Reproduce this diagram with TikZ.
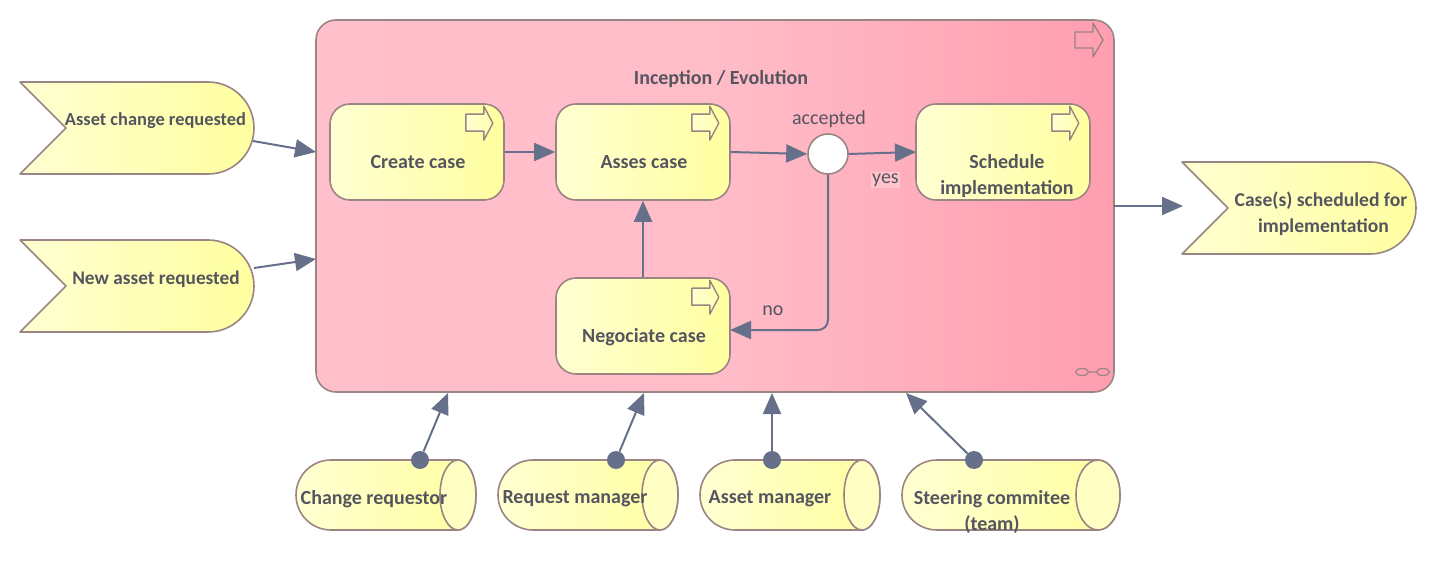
\documentclass[tikz,border=0pt]{standalone}
\usepackage{fontspec}
\setmainfont{Carlito}
\usetikzlibrary{arrows.meta}
\definecolor{edgeC}{HTML}{9A8484}
\definecolor{linkC}{HTML}{66708A}
\definecolor{textC}{HTML}{555560}
\definecolor{yellowL}{HTML}{FFFFD2}
\definecolor{yellowR}{HTML}{FFFFA0}
\definecolor{yesbg}{HTML}{FFC4CE}
\pgfdeclarehorizontalshading{pinkfade}{100bp}{
  rgb(0bp)=(1,0.753,0.796);
  rgb(25bp)=(1,0.753,0.796);
  rgb(50bp)=(1,0.74,0.785);
  rgb(75bp)=(1,0.62,0.69);
  rgb(100bp)=(1,0.62,0.69)}
\tikzset{
  outline/.style={draw=edgeC,line width=1.6pt,line join=round},
  yfill/.style={left color=yellowL,right color=yellowR},
  procbox/.style={outline,yfill,rounded corners=20pt,minimum width=174pt,minimum height=96pt,inner sep=0pt},
  eventbox/.style={outline,yfill},
  actorbody/.style={outline,yfill},
  actorend/.style={outline,fill=yellowL!70!yellowR},
  iconarrow/.style={outline,line width=1.4pt},
  bold/.style={font=\fontsize{20}{26}\selectfont\bfseries,text=textC,align=center,inner sep=0pt},
  plain/.style={font=\fontsize{20}{22}\selectfont,text=textC,inner sep=0pt},
  link/.style={draw=linkC,line width=2pt,-{Triangle[length=21pt,width=18pt]}},
  dot/.style={circle,fill=linkC,minimum size=18pt,inner sep=0pt},
}
\newcommand{\procicon}[1]{%
  \path[iconarrow,left color=yellowL,right color=yellowR] (#1) ++(-39,-11) -- ++(18,0) -- ++(0,8) -- ++(9,-17) -- ++(-9,-17) -- ++(0,9) -- ++(-18,0) -- cycle;}
\newcommand{\eventshape}[2]{%
  \path[eventbox] (#1,#2) -- ++(188,0) arc (90:-90:46) -- ++(-188,0) -- ++(46,46) -- cycle;}
\newcommand{\actorshape}[4]{% left, top, ellipse centre x, rx
  \path[actorbody] (#3,#2) -- (#1+35,#2) arc (90:270:35) -- (#3,#2-70) arc (-90:90:#4 and 35) -- cycle;
  \path[actorend] (#3,#2-35) ellipse (#4 and 35);}
\begin{document}
\begin{tikzpicture}[x=1pt,y=1pt]
\useasboundingbox (0,0) rectangle (1436,-588);
% container
\node[outline,shade,shading=pinkfade,rounded corners=20pt,minimum width=798pt,minimum height=372pt,inner sep=0pt] (phase) at (715,-206) {};
\path[iconarrow] (1075,-32) -- (1093,-32) -- (1093,-23) -- (1103,-40) -- (1093,-57) -- (1093,-48) -- (1075,-48) -- cycle;
\draw[edgeC,line width=1.2pt] (1082,-372) ellipse (6.5 and 3.5) (1103,-372) ellipse (6.5 and 3.5) (1088.5,-372) -- (1096.5,-372);
\node[bold] (phasetitle) at (721,-79) {Inception / Evolution};
% events
\eventshape{20}{-82}
\eventshape{20}{-240}
\eventshape{1182}{-162}
\node[bold,font=\fontsize{18.4}{26}\selectfont\bfseries] (t1) at (155.5,-120.5) {Asset change requested};
\node[bold,font=\fontsize{19.3}{26}\selectfont\bfseries] (t2) at (156,-279) {New asset requested};
\node[bold,font=\fontsize{19.6}{26}\selectfont\bfseries] (t3) at (1321,-214) {Case(s) scheduled for\hspace{3pt}\\\hspace{5pt}implementation};
% processes
\node[procbox] (create) at (417,-152) {};
\node[procbox] (assess) at (643,-152) {};
\node[procbox] (schedule) at (1003,-152) {};
\node[procbox] (negotiate) at (643,-326) {};
\procicon{create.north east}
\procicon{assess.north east}
\procicon{schedule.north east}
\procicon{negotiate.north east}
\node[bold] (t4) at (418,-162) {Create case};
\node[bold] (t5) at (644,-162) {Asses case};
\node[bold] (t6) at (1007,-176) {Schedule\hspace{13pt}\\implementation};
\node[bold] (t7) at (644,-337) {Negociate case};
% junction
\node[circle,draw=edgeC,line width=1.6pt,fill=white,minimum size=40pt,inner sep=0pt] (junction) at (828,-154) {};
\node[plain] (accepted) at (829,-119) {accepted};
\node[plain,fill=yesbg,inner sep=1.5pt] (yes) at (885.5,-180) {yes};
\node[plain] (no) at (773,-311) {no};
% actors
\actorshape{296}{-460}{458}{18}
\actorshape{498}{-460}{660}{18}
\actorshape{700}{-460}{862}{18}
\actorshape{902}{-460}{1098}{22}
\node[bold] (t8) at (374,-499) {Change requestor};
\node[bold] (t9) at (575,-499) {Request manager};
\node[bold] (t10) at (770,-499) {Asset manager};
\node[bold] (t11) at (992,-512) {Steering commitee\\(team)};
% connector ends
\coordinate (e1out) at (253,-141);
\coordinate (e2out) at (254,-268);
\coordinate (p1in) at (316,-152);
\coordinate (p2in) at (316,-259);
\coordinate (pout) at (1114,-206);
\coordinate (e3in) at (1183,-206);
\node[dot] (s1) at (420,-460) {};
\node[dot] (s2) at (616,-460) {};
\node[dot] (s3) at (772,-460) {};
\node[dot] (s4) at (974,-460) {};
\coordinate (d1) at (448,-393);
\coordinate (d2) at (644,-393);
\coordinate (d3) at (772,-393);
\coordinate (d4) at (906,-393);
\coordinate (si) at (916,-152);
\coordinate (ni) at (730,-330);
% connectors
\draw[link] (e1out) -- (p1in);
\draw[link] (e2out) -- (p2in);
\draw[link] (pout) -- (e3in);
\draw[link] (create.east) -- (assess.west);
\draw[link] (assess.east) -- (junction.west);
\draw[link] (junction.east) -- (si);
\draw[link] (negotiate.north) -- (assess.south);
\draw[link,rounded corners=10pt] (junction.south) |- (ni);
\draw[link] (s1) -- (d1);
\draw[link] (s2) -- (d2);
\draw[link] (s3) -- (d3);
\draw[link] (s4) -- (d4);
\end{tikzpicture}
\end{document}
